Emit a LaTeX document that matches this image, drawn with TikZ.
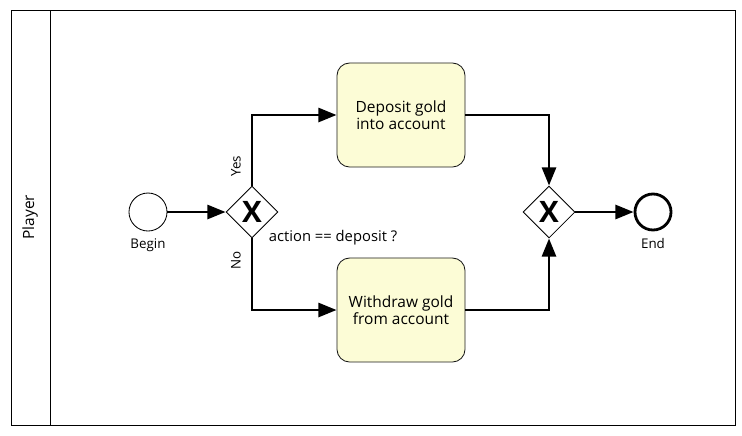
\documentclass[tikz,border=0pt]{standalone}
\usepackage{fontspec}
\setmainfont{Open Sans}
\usepackage{xcolor}
\definecolor{taskyellow}{HTML}{FCFCD6}
\definecolor{taskborder}{HTML}{1A1A1A}
\usetikzlibrary{shapes.geometric, arrows.meta, positioning, calc}

\begin{document}
\begin{tikzpicture}[x=0.025cm, y=-0.025cm,
  task/.style={rectangle, rounded corners=9pt, draw=taskborder, fill=taskyellow,
    minimum width=3.2cm, minimum height=2.6cm, align=center,
    font=\fontsize{11}{12.5}\selectfont, line width=0.6pt},
  gateway/.style={diamond, draw, fill=white, minimum width=1.3cm, minimum height=1.3cm,
    inner sep=0pt, line width=0.6pt, font=\fontsize{21}{21}\selectfont\bfseries},
  event/.style={circle, draw, fill=white, minimum size=0.95cm, inner sep=0pt},
  lbl/.style={font=\fontsize{9.5}{11}\selectfont},
  flow/.style={-{Triangle[length=13pt, width=10pt]}, line width=2pt}
]
\useasboundingbox (0,0) rectangle (742,435);

% Pool and lane
\draw[line width=0.6pt] (11,10) rectangle (735,425);
\draw[line width=0.6pt] (50,10) -- (50,425);
\node[lbl, font=\fontsize{11}{12}\selectfont, rotate=90] (player) at (30,217) {Player};

% Events and gateways
\node[event, line width=0.6pt] (begin) at (148,212) {};
\node[lbl, below=0.05cm of begin] {Begin};
\node[gateway] (split) at (252,212) {X};
\node[gateway] (join) at (549,212) {X};
\node[event, line width=2pt, minimum size=0.9cm] (end) at (653,212) {};
\node[lbl, below=0.05cm of end] {End};

% Tasks
\node[task] (deposit) at (401,115) {Deposit gold\\into account};
\node[task] (withdraw) at (401,310) {Withdraw gold\\from account};

% Sequence flows
\draw[flow] (begin) -- (split);
\draw[flow] (split.north) |- (deposit.west);
\draw[flow] (split.south) |- (withdraw.west);
\draw[flow] (deposit.east) -| (join.north);
\draw[flow] (withdraw.east) -| (join.south);
\draw[flow] (join) -- (end);

\node[lbl, rotate=90] at (236,166) {Yes};
\node[lbl, rotate=90] at (236,260) {No};
\node[lbl, font=\fontsize{10.5}{12}\selectfont, anchor=west] at (264,238) {action == deposit ?};
\end{tikzpicture}
\end{document}
